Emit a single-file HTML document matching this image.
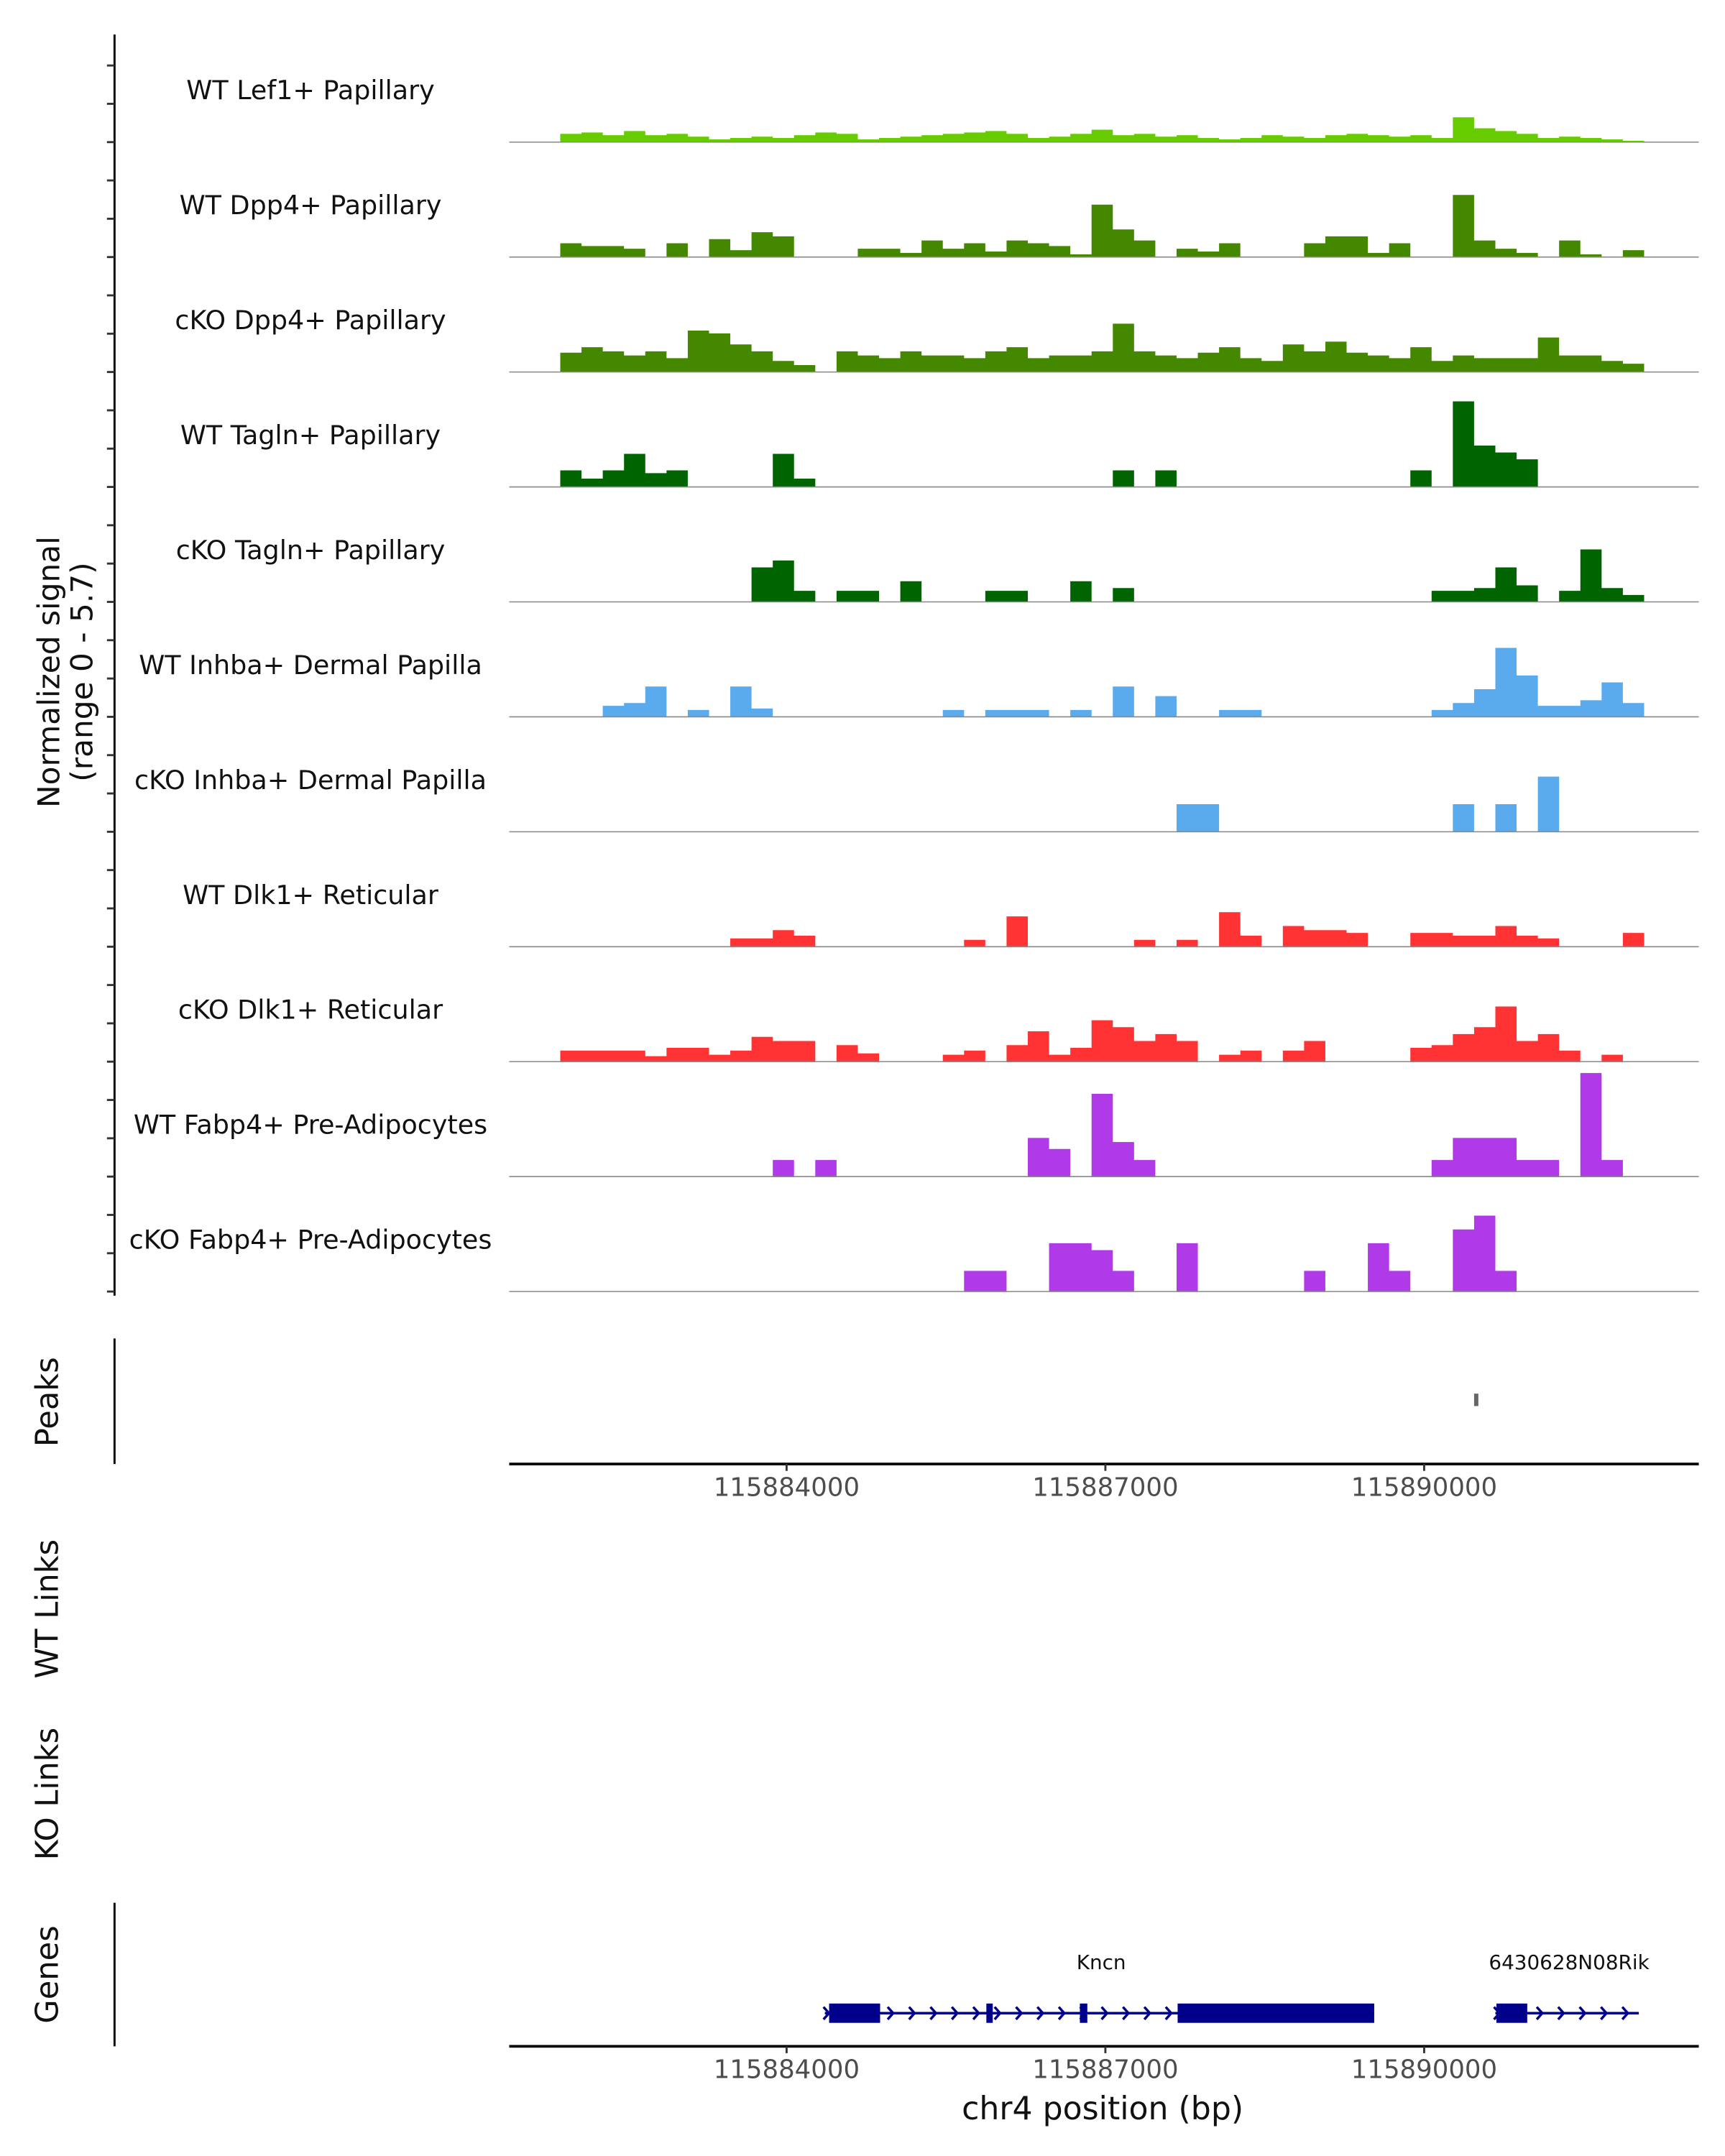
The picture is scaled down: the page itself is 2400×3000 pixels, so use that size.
<!DOCTYPE html>
<html><head><meta charset="utf-8"><style>
html,body{margin:0;padding:0;background:#fff;}
svg{display:block;font-family:"DejaVu Sans","Liberation Sans",sans-serif;}
</style></head><body>
<svg id="chart" width="2400" height="3000" viewBox="0 0 1250 1562.5" xmlns="http://www.w3.org/2000/svg">
<g id="tracks"></g>
<line x1="83" y1="25" x2="83" y2="939" stroke="#000" stroke-width="1.5"/>
<g id="yticks"></g>
<text transform="translate(0,487) rotate(-90)" text-anchor="middle" font-size="22" fill="#111"><tspan x="0" y="43">Normalized signal</tspan><tspan x="0" y="67">(range 0 - 5.7)</tspan></text>

<line x1="83" y1="970" x2="83" y2="1061" stroke="#000" stroke-width="1.5"/>
<text transform="translate(42,1016) rotate(-90)" text-anchor="middle" font-size="22.5" fill="#111">Peaks</text>
<g id="peaks"></g>
<g id="xaxis1"></g>

<text transform="translate(42,1166) rotate(-90)" text-anchor="middle" font-size="22.5" fill="#111">WT Links</text>
<text transform="translate(42,1300) rotate(-90)" text-anchor="middle" font-size="22.5" fill="#111">KO Links</text>

<line x1="83" y1="1379" x2="83" y2="1483" stroke="#000" stroke-width="1.5"/>
<text transform="translate(42,1431) rotate(-90)" text-anchor="middle" font-size="22.5" fill="#111">Genes</text>
<g id="genes"></g>
<g id="xaxis2"></g>
<text x="799" y="1536" text-anchor="middle" font-size="23" fill="#111">chr4 position (bp)</text>
</svg>
<script>
const NS="http://www.w3.org/2000/svg";
const binStart=115881470, binSize=200;
const trackNames=["WT Lef1+ Papillary","WT Dpp4+ Papillary","cKO Dpp4+ Papillary","WT Tagln+ Papillary","cKO Tagln+ Papillary","WT Inhba+ Dermal Papilla","cKO Inhba+ Dermal Papilla","WT Dlk1+ Reticular","cKO Dlk1+ Reticular","WT Fabp4+ Pre-Adipocytes","cKO Fabp4+ Pre-Adipocytes"];
const trackColors=["#66cc00","#448800","#448800","#006400","#006400","#5aaaee","#5aaaee","#ff3333","#ff3333","#b03ae8","#b03ae8"];
const sigWTLef1=[0,0,6,7,5,8,5,6,4,2,3,4,3,5,7,6,2,3,4,5,6,7,8,6,3,4,6,9,5,6,4,5,3,2,3,5,4,3,5,6,5,4,5,3,18,10,8,6,3,4,3,2,1,0,0,0];
const sigWTDpp4=[0,0,10,8,8,6,0,10,0,13,5,18,15,0,0,0,6,6,3,12,6,10,4,12,10,8,2,38,20,12,0,6,4,10,0,0,0,10,15,15,3,10,0,0,45,12,6,3,0,12,2,0,5,0,0,0];
const sigKODpp4=[0,0,14,18,15,12,15,10,30,28,20,15,8,5,0,15,12,10,15,12,12,10,15,18,10,12,12,15,35,15,12,10,14,18,10,8,20,15,22,14,12,10,18,8,12,10,10,10,25,12,12,8,6,0,0,0];
const sigWTTagln=[0,0,12,6,12,24,10,12,0,0,0,0,24,6,0,0,0,0,0,0,0,0,0,0,0,0,0,0,12,0,12,0,0,0,0,0,0,0,0,0,0,0,12,0,62,30,25,20,0,0,0,0,0,0,0,0];
const sigKOTagln=[0,0,0,0,0,0,0,0,0,0,0,25,30,8,0,8,8,0,15,0,0,0,8,8,0,0,15,0,10,0,0,0,0,0,0,0,0,0,0,0,0,0,0,8,8,10,25,12,0,8,38,10,5,0,0,0];
const sigWTInhba=[0,0,0,0,8,10,22,0,5,0,22,6,0,0,0,0,0,0,0,0,5,0,5,5,5,0,5,0,22,0,15,0,0,5,5,0,0,0,0,0,0,0,0,5,10,20,50,30,8,8,12,25,10,0,0,0];
const sigKOInhba=[0,0,0,0,0,0,0,0,0,0,0,0,0,0,0,0,0,0,0,0,0,0,0,0,0,0,0,0,0,0,0,20,20,0,0,0,0,0,0,0,0,0,0,0,20,0,20,0,40,0,0,0,0,0,0,0];
const sigWTDlk1=[0,0,0,0,0,0,0,0,0,0,6,6,12,8,0,0,0,0,0,0,0,5,0,22,0,0,0,0,0,5,0,5,0,25,8,0,15,12,12,10,0,0,10,10,8,8,15,8,6,0,0,0,10,0,0,0];
const sigKODlk1=[0,0,8,8,8,8,4,10,10,5,8,18,15,15,0,12,6,0,0,0,5,8,0,12,22,5,10,30,25,15,20,15,0,5,8,0,8,15,0,0,0,0,10,12,20,25,40,15,20,8,0,5,0,0,0,0];
const sigWTFabp4=[0,0,0,0,0,0,0,0,0,0,0,0,12,0,12,0,0,0,0,0,0,0,0,0,28,20,0,60,25,12,0,0,0,0,0,0,0,0,0,0,0,0,0,12,28,28,28,12,12,0,75,12,0,0,0,0];
const sigKOFabp4=[0,0,0,0,0,0,0,0,0,0,0,0,0,0,0,0,0,0,0,0,0,15,15,0,0,35,35,30,15,0,0,35,0,0,0,0,0,15,0,0,35,15,0,0,45,55,15,0,0,0,0,0,0,0,0,0];
const allSignals=[sigWTLef1,sigWTDpp4,sigKODpp4,sigWTTagln,sigKOTagln,sigWTInhba,sigKOInhba,sigWTDlk1,sigKODlk1,sigWTFabp4,sigKOFabp4];
const xTickValues=[115884000,115887000,115890000];
const xTickLabels=["115884000","115887000","115890000"];
const peakStarts=[115890470];
const peakEnds=[115890510];
const geneNames=["Kncn","6430628N08Rik"];
const geneStarts=[115884360,115890670];
const geneEnds=[115889530,115892020];
const exonStarts=[115884400,115885880,115886760,115887680,115890680];
const exonEnds=[115884880,115885940,115886830,115889530,115890970];

const X0=369,X1=1231;
function xs(bp){return 570+(bp-115884000)/3000*231;}
const sigMax=83, trackH=83.3, base0=103;
function ys(v,i){return base0+i*trackH - v/sigMax*83;}
function mk(tag,attrs,parent){const e=document.createElementNS(NS,tag);for(const k in attrs)e.setAttribute(k,attrs[k]);parent.appendChild(e);return e;}

const gT=document.getElementById('tracks');
allSignals.forEach((s,i)=>{
  const base=base0+i*trackH;
  const t=mk('text',{x:225,y:base-31,'text-anchor':'middle','font-size':'19','fill':'#111'},gT);
  t.textContent=trackNames[i];
  
  
  let d='M'+X0+','+base;
  s.forEach((v,j)=>{
    const a=Math.max(X0,xs(binStart+j*binSize)), b=Math.min(X1,xs(binStart+(j+1)*binSize));
    if(b<=a)return;
    const y=ys(v,i);
    d+=' L'+a.toFixed(2)+','+y.toFixed(2)+' L'+b.toFixed(2)+','+y.toFixed(2);
  });
  d+=' L'+X1+','+base+' Z';
  const p=mk('path',{d:d,fill:trackColors[i],stroke:'none'},gT);
  
  
  const l=mk('line',{x1:X0,x2:X1,y1:base,y2:base,stroke:'#888','stroke-width':0.8},gT);
  
  
});
const gY=document.getElementById('yticks');
for(let y=base0-2*trackH/3;y<940;y+=trackH/3){
  const l=mk('line',{x1:77.5,x2:83,y1:y,y2:y,stroke:'#333','stroke-width':1.5},gY);
  
  
}
const gP=document.getElementById('peaks');
peakStarts.forEach((s,i)=>{
  const r=mk('rect',{x:xs(s),y:1010,width:Math.max(2.5,xs(peakEnds[i])-xs(s)),height:9,fill:'#666'},gP);
  
  
});
function axis(id,y,labY){
  const g=document.getElementById(id);
  const l=mk('line',{x1:X0,x2:X1,y1:y,y2:y,stroke:'#000','stroke-width':2},g);
  
  
  xTickValues.forEach((v,i)=>{
    const tk=mk('line',{x1:xs(v),x2:xs(v),y1:y,y2:y+5,stroke:'#333','stroke-width':1.5},g);
    
    
    const t=mk('text',{x:xs(v),y:labY,'text-anchor':'middle','font-size':'18.5',fill:'#4d4d4d'},g);
    t.textContent=xTickLabels[i];
    
    
  });
}
axis('xaxis1',1061,1084);
axis('xaxis2',1483,1506);
const gG=document.getElementById('genes');
const gy=1459, navy='#00008b';
geneNames.forEach((n,i)=>{
  const a=xs(geneStarts[i]), b=xs(geneEnds[i]);
  const l=mk('line',{x1:a,x2:b,y1:gy,y2:gy,stroke:navy,'stroke-width':1.8},gG);
  
  
  for(let x=a+2;x<b;x+=15.5){
    const ar=mk('path',{d:`M${x-3},${gy-4.5} L${x+1},${gy} L${x-3},${gy+4.5}`,fill:'none',stroke:navy,'stroke-width':1.8},gG);
    
    
  }
  const t=mk('text',{x:(i==0?798:1137),y:1427,'text-anchor':'middle','font-size':'14.5',fill:'#111'},gG);
  t.textContent=n;
  
  
});
exonStarts.forEach((s,i)=>{
  const r=mk('rect',{x:xs(s),y:gy-7,width:xs(exonEnds[i])-xs(s),height:14,fill:navy},gG);
  
  
});
</script>
</body></html>
